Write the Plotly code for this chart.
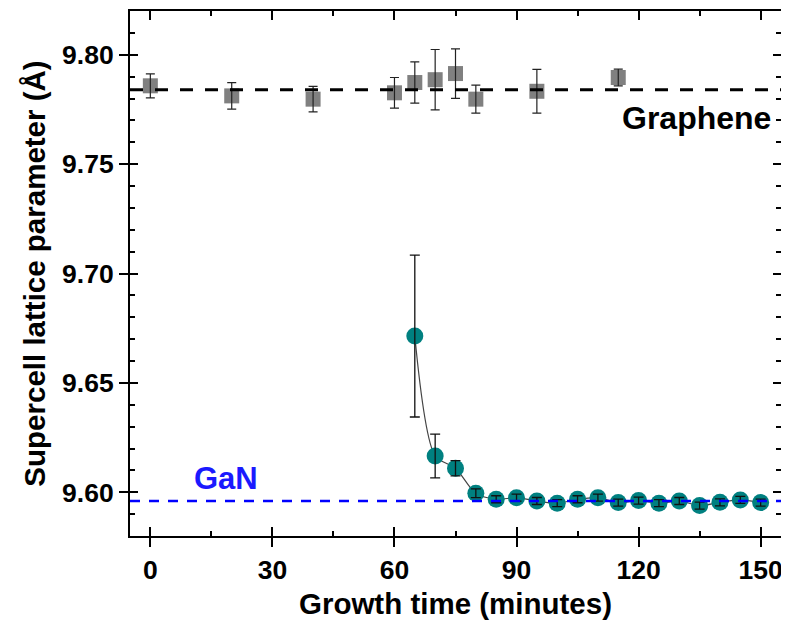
import plotly.graph_objects as go

# ---- data ----
graphene_time = [0, 20, 40, 60, 65, 70, 75, 80, 95, 115]
graphene_a = [9.7858, 9.7812, 9.7797, 9.7826, 9.7873, 9.7886, 9.7914, 9.7797, 9.7833, 9.7896]
graphene_err = [0.0055, 0.0061, 0.0058, 0.0070, 0.0094, 0.0138, 0.0113, 0.0064, 0.0100, 0.0038]

gan_time = [65, 70, 75, 80, 85, 90, 95, 100, 105, 110, 115, 120, 125, 130, 135, 140, 145, 150]
gan_a = [9.6714, 9.6166, 9.6110, 9.5995, 9.5968, 9.5975, 9.5960, 9.5950, 9.5968, 9.5975,
         9.5953, 9.5962, 9.5950, 9.5960, 9.5939, 9.5954, 9.5965, 9.5953]
gan_err = [0.037, 0.010, 0.0035, 0.002, 0.0016, 0.0016, 0.0016, 0.0016, 0.0016, 0.0016,
           0.0016, 0.0016, 0.0016, 0.0016, 0.0016, 0.0016, 0.0016, 0.0016]

graphene_ref = 9.784
gan_ref = 9.596

x_ticks = [0, 30, 60, 90, 120, 150]
y_ticks = [9.60, 9.65, 9.70, 9.75, 9.80]
y_ticklabels = ["9.60", "9.65", "9.70", "9.75", "9.80"]

x_range = [-5, 155]
y_range = [9.58, 9.82]

FONT = "Liberation Sans, Arial, sans-serif"

fig = go.Figure()

# graphene squares
fig.add_trace(go.Scatter(
    x=graphene_time, y=graphene_a, mode="markers",
    marker=dict(symbol="square", size=15, color="#808080"),
    showlegend=False))
fig.add_trace(go.Scatter(
    x=graphene_time, y=graphene_a, mode="markers",
    marker=dict(size=1, color="rgba(0,0,0,0)"),
    error_y=dict(type="data", array=graphene_err, color="#222222", thickness=1.2, width=4.5),
    showlegend=False))

# GaN circles with smooth connecting line
fig.add_trace(go.Scatter(
    x=gan_time, y=gan_a, mode="lines+markers",
    line=dict(color="#444444", width=1.2, shape="spline", smoothing=0.8),
    marker=dict(symbol="circle", size=17, color="#008080"),
    showlegend=False))
fig.add_trace(go.Scatter(
    x=gan_time, y=gan_a, mode="markers",
    marker=dict(size=1, color="rgba(0,0,0,0)"),
    error_y=dict(type="data", array=gan_err, color="#111111", thickness=1.3, width=5),
    showlegend=False))

# empty trace to host overlay axes (inside ticks)
fig.add_trace(go.Scatter(x=[], y=[], xaxis="x2", yaxis="y2", showlegend=False))

# reference lines
fig.add_hline(y=graphene_ref, line=dict(color="black", width=3, dash="13px,12px"), layer="above")
fig.add_hline(y=gan_ref, line=dict(color="#0000ff", width=2.6, dash="10px,9px"), layer="above")

fig.add_annotation(x=153, y=9.7712, xref="x", yref="y", text="Graphene", showarrow=False,
                   xanchor="right", yanchor="middle",
                   font=dict(family=FONT, size=32, color="black", weight="bold"))
fig.add_annotation(x=18.7, y=9.6065, xref="x", yref="y", text="GaN", showarrow=False,
                   xanchor="center", yanchor="middle",
                   font=dict(family=FONT, size=31, color="#1a1aff", weight="bold"))

tickfont = dict(family=FONT, size=26.5, color="black", weight="bold")
titlefont = dict(family=FONT, size=29.5, color="black", weight="bold")

# page body has an 8px margin: figure is sized/offset to compensate
fig.update_layout(
    width=781, height=619,
    margin=dict(l=122, r=8, t=3, b=91, autoexpand=False),
    plot_bgcolor="white", paper_bgcolor="white",
    xaxis=dict(range=x_range, tickvals=x_ticks, ticks="outside", ticklen=9, tickwidth=2,
               tickcolor="black", showline=True, linewidth=2, linecolor="black", mirror=True,
               showgrid=False, zeroline=False, tickfont=tickfont,
               title=dict(text="Growth time (minutes)", font=titlefont, standoff=10)),
    yaxis=dict(range=y_range, tickvals=y_ticks, ticktext=y_ticklabels, ticks="outside",
               ticklen=9, tickwidth=2, tickcolor="black", showline=True, linewidth=2,
               linecolor="black", mirror=True, showgrid=False, zeroline=False, tickfont=tickfont,
               title=dict(text="Supercell lattice parameter (Å)", font=titlefont, standoff=8)),
    xaxis2=dict(range=x_range, overlaying="x", anchor="y2", side="bottom", tickvals=x_ticks,
                ticks="inside", ticklen=9, tickwidth=2, tickcolor="black", mirror="ticks",
                showticklabels=False, showline=False, showgrid=False, zeroline=False,
                minor=dict(ticks="inside", ticklen=5, tickwidth=1.5, tickcolor="black",
                           tickvals=[15, 45, 75, 105, 135], showgrid=False)),
    yaxis2=dict(range=y_range, overlaying="y", anchor="x2", side="left", tickvals=y_ticks,
                ticks="inside", ticklen=8, tickwidth=2, tickcolor="black", mirror="ticks",
                showticklabels=False, showline=False, showgrid=False, zeroline=False,
                minor=dict(ticks="inside", ticklen=5, tickwidth=1.5, tickcolor="black",
                           dtick=0.01, tick0=9.60, showgrid=False)),
)

fig.write_html("out.html")
